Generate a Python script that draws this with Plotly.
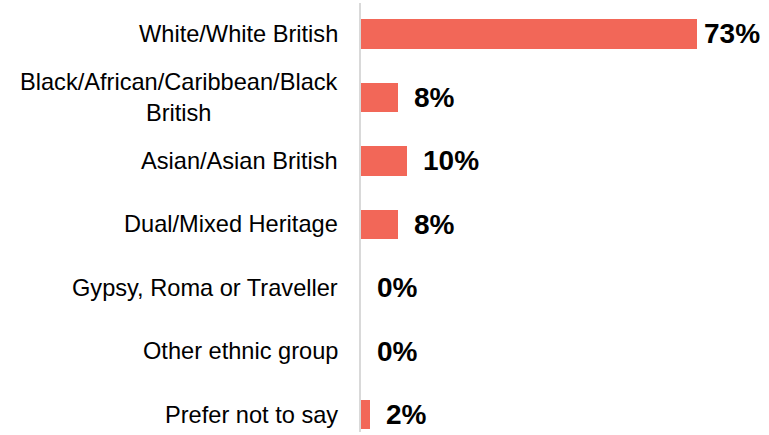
import plotly.graph_objects as go

# Ethnicity breakdown (% of respondents)
categories = [
    "White/White British",
    "Black/African/Caribbean/Black<br>British",
    "Asian/Asian British",
    "Dual/Mixed Heritage",
    "Gypsy, Roma or Traveller",
    "Other ethnic group",
    "Prefer not to say",
]
values = [73, 8, 10, 8, 0, 0, 2]
value_labels = ["73%", "8%", "10%", "8%", "0%", "0%", "2%"]

BAR_COLOR = "#F26758"
FONT = "Arial, Liberation Sans, sans-serif"

fig = go.Figure(
    go.Bar(
        x=values,
        y=categories,
        orientation="h",
        marker=dict(color=BAR_COLOR, line=dict(width=0)),
        width=0.457,
        hoverinfo="skip",
    )
)

# Category labels, centred line-by-line to the left of the axis
for cat in categories:
    fig.add_annotation(
        x=0, xref="paper", xanchor="right", xshift=-21,
        y=cat, yref="y", yanchor="middle",
        text=cat, showarrow=False, align="center",
        font=dict(family=FONT, size=23.6, color="#000000"),
    )

# Value labels beside each bar
for cat, v, lab in zip(categories, values, value_labels):
    fig.add_annotation(
        x=v, xref="x", xanchor="left", xshift=5 if v > 50 else 14,
        y=cat, yref="y", yanchor="middle",
        text=f"<b>{lab}</b>", showarrow=False,
        font=dict(family=FONT, size=28, color="#000000"),
    )

fig.update_layout(
    width=769, height=435,
    margin=dict(l=361, r=0, t=3, b=3),
    paper_bgcolor="white", plot_bgcolor="white",
    showlegend=False,
    bargap=0,
    xaxis=dict(range=[0, 88.7], visible=False, fixedrange=True),
    yaxis=dict(
        type="category",
        categoryorder="array", categoryarray=categories,
        range=[6.268, -0.488],
        showticklabels=False, ticks="",
        showgrid=False, zeroline=False,
        showline=True, linecolor="#D9D9D9", linewidth=2,
        fixedrange=True,
    ),
)

fig.write_html("out.html")
